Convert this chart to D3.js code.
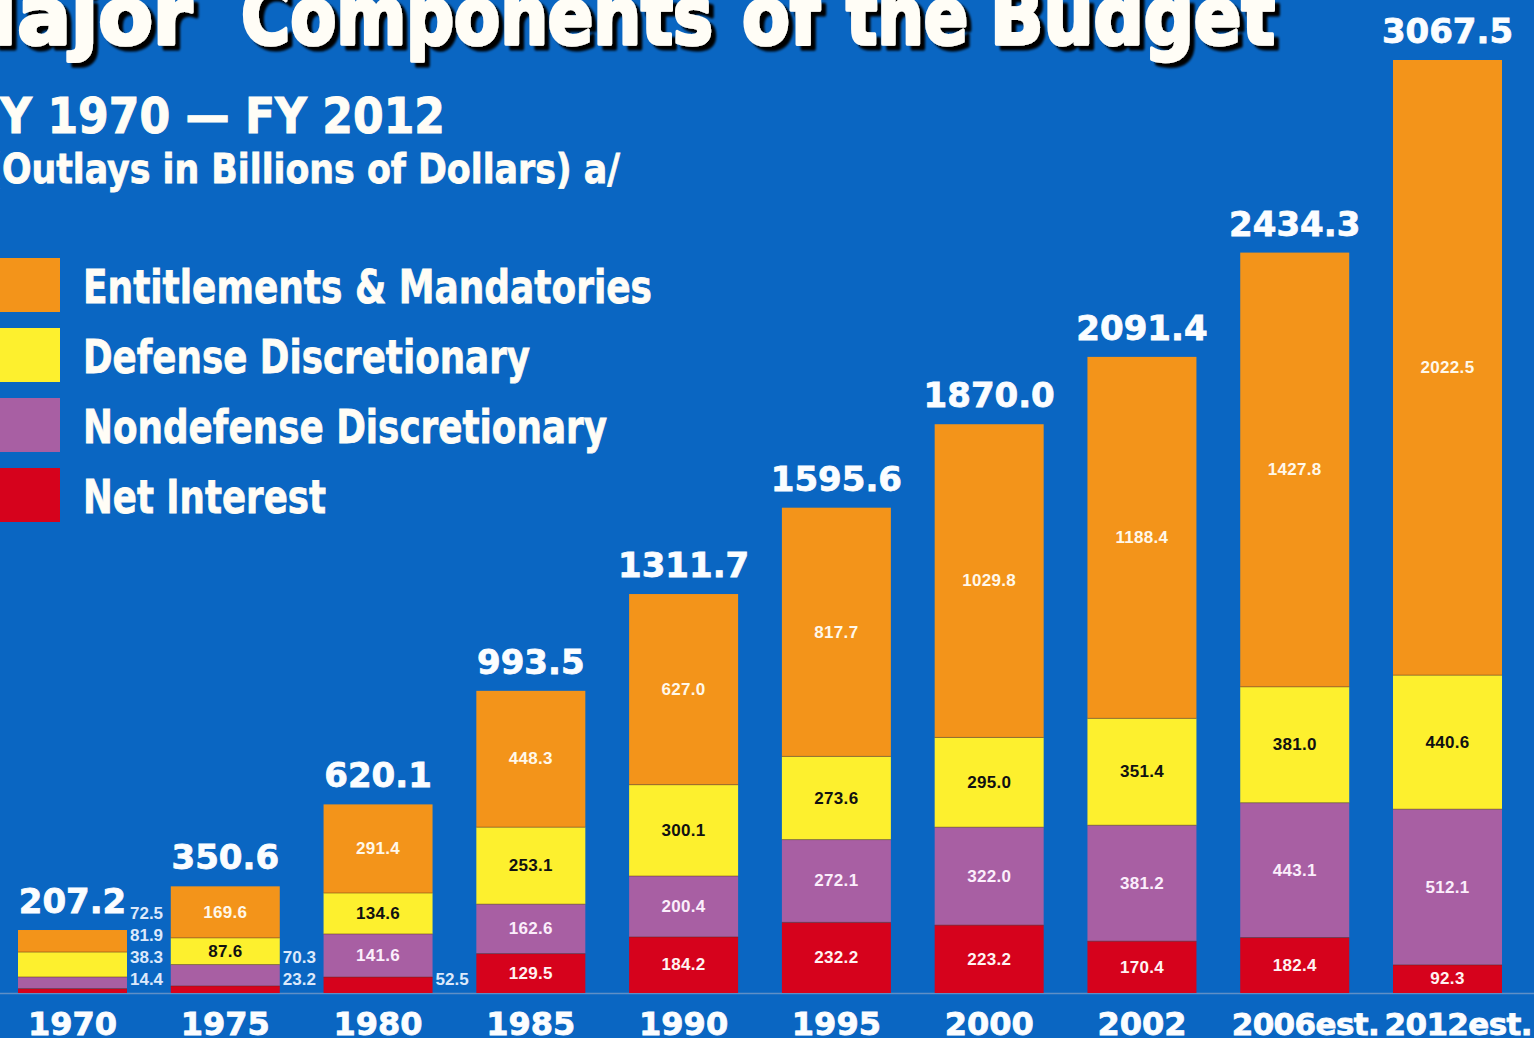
<!DOCTYPE html>
<html>
<head>
<meta charset="utf-8">
<script src="https://cdn.jsdelivr.net/npm/d3@7"></script>
<style>
  html, body { margin: 0; padding: 0; background: #0a66c2; overflow: hidden; }
  svg { display: block; }
</style>
</head>
<body>
<svg id="chart" width="1534" height="1038"></svg>
<script>
// Fiscal years shown along the bottom
const categories = ["1970", "1975", "1980", "1985", "1990", "1995", "2000", "2002", "2006est.", "2012est."];

// Outlays by component, billions of dollars
const netInterest  = [14.4, 23.2, 52.5, 129.5, 184.2, 232.2, 223.2, 170.4, 182.4, 92.3];
const nondefense   = [38.3, 70.3, 141.6, 162.6, 200.4, 272.1, 322.0, 381.2, 443.1, 512.1];
const defense      = [81.9, 87.6, 134.6, 253.1, 300.1, 273.6, 295.0, 351.4, 381.0, 440.6];
const entitlements = [72.5, 169.6, 291.4, 448.3, 627.0, 817.7, 1029.8, 1188.4, 1427.8, 2022.5];

// Stated total outlays for each year
const totals = [207.2, 350.6, 620.1, 993.5, 1311.7, 1595.6, 1870.0, 2091.4, 2434.3, 3067.5];

// Legend entries, top to bottom
const seriesNames = ["Entitlements & Mandatories", "Defense Discretionary", "Nondefense Discretionary", "Net Interest"];

const W = 1534, H = 1038;
const baseline = 993;
const svg = d3.select("#chart");

// hard drop shadow for the headline
const defs = svg.append("defs");
defs.append("filter")
  .attr("id", "headShadow")
  .attr("x", "-5%").attr("y", "-20%").attr("width", "115%").attr("height", "150%")
  .append("feDropShadow")
  .attr("dx", 5).attr("dy", 4).attr("stdDeviation", 0.8)
  .attr("flood-color", "#000").attr("flood-opacity", 1);

const colors = {
  entitlements: "#f3941a",
  defense: "#fdf02e",
  nondefense: "#a85fa3",
  netInterest: "#d6021c"
};
const labelColors = {
  entitlements: "#fff8ea",
  defense: "#111111",
  nondefense: "#fbeefb",
  netInterest: "#fff2f2"
};

// Stack from the bottom up: interest, nondefense, defense, entitlements
const keys = ["netInterest", "nondefense", "defense", "entitlements"];
const rows = categories.map((c, i) => ({
  year: c,
  netInterest: netInterest[i],
  nondefense: nondefense[i],
  defense: defense[i],
  entitlements: entitlements[i],
  total: totals[i]
}));
const stacked = d3.stack().keys(keys)(rows);

const x = d3.scaleBand()
  .domain(categories)
  .range([18, 1502])
  .paddingInner(0.2866)
  .paddingOuter(0);

const y = d3.scaleLinear()
  .domain([0, d3.max(totals)])
  .range([baseline, 60]);

const fmt = d3.format(".1f");

// ---- Title block ----
// headline is set a little smaller and stretched vertically for a tall, heavy look
const headWords = [
  { t: "Major", x: -62, w: 254 },
  { t: "Components", x: 241, w: 472 },
  { t: "of", x: 742, w: 78 },
  { t: "the", x: 846, w: 122 },
  { t: "Budget", x: 990, w: 285 }
];
svg.append("g")
  .attr("transform", "translate(0, 44) scale(1, 1.18)")
  .append("text")
  .attr("filter", "url(#headShadow)")
  .attr("y", 0)
  .attr("font-family", "DejaVu Sans, sans-serif")
  .attr("font-weight", "bold").attr("font-size", 68)
  .attr("fill", "#fffdf6").attr("stroke", "#fffdf6").attr("stroke-width", 3)
  .attr("stroke-linejoin", "round")
  .selectAll("tspan")
  .data(headWords)
  .join("tspan")
  .attr("x", d => d.x)
  .attr("textLength", d => d.w).attr("lengthAdjust", "spacingAndGlyphs")
  .text(d => d.t);

const sub = svg.append("g");
sub.append("text")
  .attr("x", -30).attr("y", 133)
  .attr("textLength", 475).attr("lengthAdjust", "spacingAndGlyphs")
  .attr("font-family", "DejaVu Sans, sans-serif")
  .attr("font-weight", "bold").attr("font-size", 49)
  .attr("fill", "#fffdf6")
  .attr("stroke", "#fffdf6").attr("stroke-width", 1)
  .text("FY 1970 \u2014 FY 2012");

sub.append("text")
  .attr("x", -14).attr("y", 183)
  .attr("textLength", 634).attr("lengthAdjust", "spacingAndGlyphs")
  .attr("font-family", "DejaVu Sans, sans-serif")
  .attr("font-weight", "bold").attr("font-size", 40)
  .attr("fill", "#fffdf6")
  .attr("stroke", "#fffdf6").attr("stroke-width", 0.8)
  .text("(Outlays in Billions of Dollars) a/");

// ---- Legend ----
const legendKeys = ["entitlements", "defense", "nondefense", "netInterest"];
const legendWidths = [569, 447, 524, 243];
const legend = svg.append("g");
seriesNames.forEach((name, i) => {
  const top = 258 + i * 70;
  legend.append("rect")
    .attr("x", 0).attr("y", top)
    .attr("width", 60).attr("height", 54)
    .attr("fill", colors[legendKeys[i]]);
  legend.append("text")
    .attr("x", 83).attr("y", top + 45)
    .attr("textLength", legendWidths[i]).attr("lengthAdjust", "spacingAndGlyphs")
    .attr("font-family", "DejaVu Sans, sans-serif")
    .attr("font-weight", "bold").attr("font-size", 46)
    .attr("fill", "#fffdf6")
    .attr("stroke", "#fffdf6").attr("stroke-width", 0.8)
    .text(name);
});

// ---- Baseline ----
svg.append("line")
  .attr("x1", 0).attr("x2", W)
  .attr("y1", baseline + 0.5).attr("y2", baseline + 0.5)
  .attr("stroke", "#5f8fc6").attr("stroke-width", 1.5);

// ---- Bars ----
const barG = svg.append("g");
stacked.forEach(layer => {
  barG.append("g")
    .selectAll("rect")
    .data(layer)
    .join("rect")
    .attr("x", d => x(d.data.year))
    .attr("y", d => y(d[1]))
    .attr("width", x.bandwidth())
    .attr("height", d => y(d[0]) - y(d[1]))
    .attr("fill", colors[layer.key]);
});

// thin seams between stacked segments
stacked.slice(0, -1).forEach(layer => {
  barG.append("g")
    .selectAll("line")
    .data(layer)
    .join("line")
    .attr("x1", d => x(d.data.year))
    .attr("x2", d => x(d.data.year) + x.bandwidth())
    .attr("y1", d => y(d[1]))
    .attr("y2", d => y(d[1]))
    .attr("stroke", "rgba(90,45,20,0.45)")
    .attr("stroke-width", 1);
});

// ---- Segment value labels ----
const minInside = 26; // px height needed to hold a label inside the segment
const labelG = svg.append("g")
  .attr("font-family", "Liberation Sans, Arial, sans-serif")
  .attr("font-weight", "bold")
  .attr("font-size", 17);

categories.forEach((cat, ci) => {
  let outsideCount = 0;
  stacked.forEach(layer => {
    const d = layer[ci];
    const v = d.data[layer.key];
    const h = y(d[0]) - y(d[1]);
    if (h >= minInside) {
      labelG.append("text")
        .attr("x", x(cat) + x.bandwidth() / 2)
        .attr("y", (y(d[0]) + y(d[1])) / 2)
        .attr("text-anchor", "middle")
        .attr("dominant-baseline", "central")
        .attr("fill", labelColors[layer.key])
        .attr("letter-spacing", 0.3)
        .text(fmt(v));
    } else {
      labelG.append("text")
        .attr("x", x(cat) + x.bandwidth() + 3)
        .attr("y", baseline - 14 - 22 * outsideCount)
        .attr("dominant-baseline", "central")
        .attr("fill", "#dce9fb")
        .text(fmt(v));
      outsideCount++;
    }
  });
});

// ---- Totals above bars ----
svg.append("g")
  .selectAll("text")
  .data(rows)
  .join("text")
  .attr("x", d => x(d.year) + x.bandwidth() / 2)
  .attr("y", d => y(d.total) - 17)
  .attr("text-anchor", "middle")
  .attr("font-family", "DejaVu Sans, sans-serif")
  .attr("font-weight", "bold")
  .attr("font-size", 34)
  .attr("fill", "#fbfdff")
  .attr("stroke", "#fbfdff").attr("stroke-width", 0.8)
  .text(d => fmt(d.total));

// ---- Year axis ----
// plain years are centred under their bars; the longer estimate labels
// are right-aligned a little past the bar edge so they do not collide
const isEst = d => d.length > 4;
const xAxis = d3.axisBottom(x).tickSize(0).tickPadding(0);
const axisG = svg.append("g")
  .attr("transform", `translate(0, ${baseline})`)
  .call(xAxis);
axisG.select(".domain").remove();
axisG.selectAll("text")
  .attr("dy", null)
  .attr("y", 42)
  .attr("x", d => isEst(d) ? x.bandwidth() / 2 + 30 : 0)
  .attr("text-anchor", d => isEst(d) ? "end" : "middle")
  .attr("font-family", "DejaVu Sans, sans-serif")
  .attr("font-weight", "bold")
  .attr("font-size", d => isEst(d) ? 31 : 32)
  .attr("letter-spacing", d => isEst(d) ? -0.6 : 0)
  .attr("fill", "#fbfdff")
  .attr("stroke", "#fbfdff").attr("stroke-width", 0.8);
</script>
</body>
</html>
